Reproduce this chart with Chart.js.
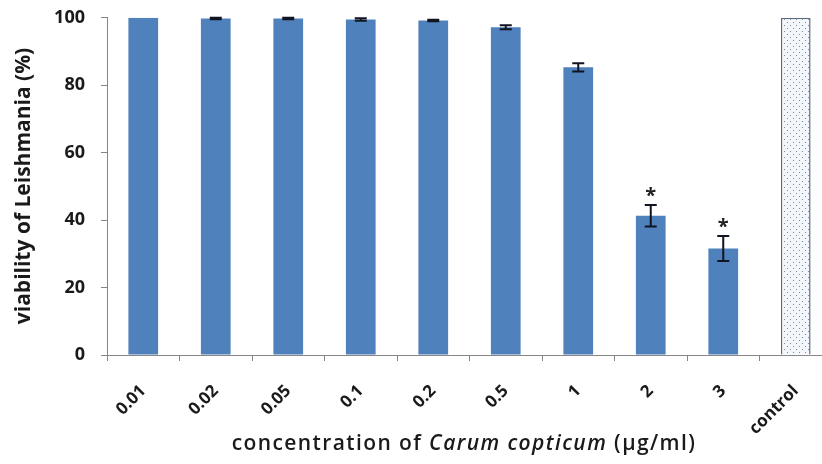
<!DOCTYPE html>
<html>
<head>
<meta charset="utf-8">
<script src="https://cdn.jsdelivr.net/npm/chart.js@4.4.1/dist/chart.umd.min.js"></script>
<style>
  html, body { margin: 0; padding: 0; background: #fff; overflow: hidden; }
  #wrap { width: 840px; height: 473px; margin-top: -9px; position: relative; }
</style>
</head>
<body>
<div id="wrap"><canvas id="viabilityChart"></canvas></div>
<script>
const concentrations = ['0.01', '0.02', '0.05', '0.1', '0.2', '0.5', '1', '2', '3', 'control'];
const viability = [100, 99.8, 99.8, 99.5, 99.2, 97.2, 85.3, 41.3, 31.6, 100];
const errors = [0, 0.2, 0.2, 0.4, 0.2, 0.6, 1.2, 3.2, 3.7, 0];
const significant = [false, false, false, false, false, false, false, true, true, false];
const yTicks = [0, 20, 40, 60, 80, 100];

const FONT = '"Open Sans", sans-serif';

// dotted fill for the control bar
function dotPattern() {
    const c = document.createElement('canvas');
    c.width = 6; c.height = 6;
    const g = c.getContext('2d');
    g.fillStyle = '#f3f7fb';
    g.fillRect(0, 0, 6, 6);
    g.fillStyle = '#7d8a9c';
    g.fillRect(1, 1, 1, 1);
    g.fillRect(4, 4, 1, 1);
    return g.createPattern(c, 'repeat');
}

const barColors = concentrations.map(c => c === 'control' ? dotPattern() : '#4f81bd');
const borderColors = concentrations.map(c => c === 'control' ? '#5d6b7e' : '#4f81bd');
const borderWidths = concentrations.map(c => c === 'control' ? 1.5 : 0);

const errorBars = {
    id: 'errorBars',
    afterDatasetsDraw(chart) {
        const ctx = chart.ctx;
        const meta = chart.getDatasetMeta(0);
        const y = chart.scales.y;
        ctx.save();
        ctx.strokeStyle = '#111522';
        ctx.lineWidth = 2;
        meta.data.forEach((bar, i) => {
            if (!errors[i]) return;
            const top = y.getPixelForValue(viability[i] + errors[i]);
            const bot = y.getPixelForValue(viability[i] - errors[i]);
            ctx.beginPath();
            ctx.moveTo(bar.x, top); ctx.lineTo(bar.x, bot);
            ctx.moveTo(bar.x - 6, top); ctx.lineTo(bar.x + 6, top);
            ctx.moveTo(bar.x - 6, bot); ctx.lineTo(bar.x + 6, bot);
            ctx.stroke();
            if (significant[i]) {
                ctx.fillStyle = '#222';
                ctx.font = 'bold 20px ' + FONT;
                ctx.textAlign = 'center';
                ctx.textBaseline = 'middle';
                ctx.fillText('*', bar.x, top - 9);
            }
        });
        ctx.restore();
    }
};

// axis titles (x title mixes upright and italic text)
const axisTitles = {
    id: 'axisTitles',
    afterDraw(chart) {
        const ctx = chart.ctx;
        ctx.save();
        ctx.fillStyle = '#1a1a1a';
        ctx.textBaseline = 'middle';
        ctx.letterSpacing = '1.4px';

        const parts = [
            ['concentration of ', '600 21px ' + FONT],
            ['Carum copticum', 'italic 600 21px ' + FONT],
            [' (µg/ml)', '600 21px ' + FONT]
        ];
        let total = 0;
        parts.forEach(p => { ctx.font = p[1]; total += ctx.measureText(p[0]).width; });
        let x = 464 - total / 2;
        ctx.textAlign = 'left';
        parts.forEach(p => {
            ctx.font = p[1];
            ctx.fillText(p[0], x, 453);
            x += ctx.measureText(p[0]).width;
        });

        ctx.letterSpacing = '0px';
        ctx.translate(24, 195);
        ctx.rotate(-Math.PI / 2);
        ctx.textAlign = 'center';
        ctx.font = 'bold 21px ' + FONT;
        ctx.fillText('viability of Leishmania (%)', 0, 0);
        ctx.restore();
    }
};

new Chart(document.getElementById('viabilityChart'), {
    type: 'bar',
    data: {
        labels: concentrations,
        datasets: [{
            data: viability,
            backgroundColor: barColors,
            borderColor: borderColors,
            borderWidth: borderWidths,
            barPercentage: 0.41,
            categoryPercentage: 1
        }]
    },
    options: {
        responsive: true,
        maintainAspectRatio: false,
        animation: false,
        layout: { padding: { top: 8, right: 8, left: 0, bottom: 0 } },
        plugins: {
            legend: { display: false },
            tooltip: { enabled: false }
        },
        scales: {
            x: {
                afterFit: s => { s.height = 109; },
                grid: { drawOnChartArea: false, tickLength: 6, color: '#868686', offset: true },
                border: { color: '#868686', width: 1 },
                ticks: {
                    minRotation: 45, maxRotation: 45, padding: 20,
                    color: '#1a1a1a',
                    font: { family: FONT, size: 17, weight: 'bold' }
                }
            },
            y: {
                min: 0, max: 100,
                afterFit: s => { s.width = 107; },
                afterBuildTicks: s => { s.ticks = yTicks.map(v => ({ value: v })); },
                grid: { drawOnChartArea: false, tickLength: 6, color: '#868686' },
                border: { color: '#868686', width: 1 },
                ticks: {
                    padding: 16,
                    color: '#1a1a1a',
                    font: { family: FONT, size: 18, weight: 'bold' }
                }
            }
        }
    },
    plugins: [errorBars, axisTitles]
});
</script>
</body>
</html>
